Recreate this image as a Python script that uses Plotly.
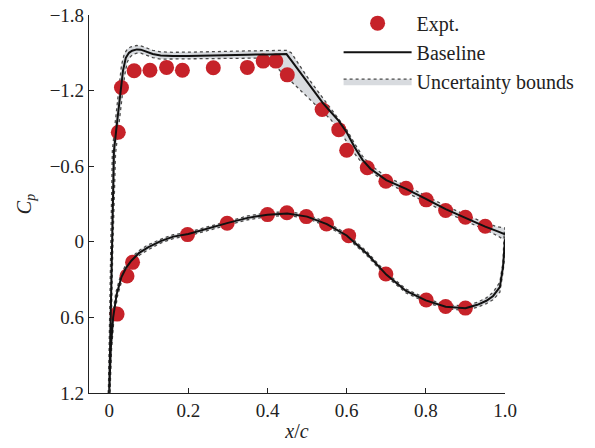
import plotly.graph_objects as go

# ---- Experimental pressure coefficients ----
exp_x_upper = [0.023, 0.031, 0.063, 0.103, 0.145, 0.185, 0.263, 0.349, 0.389, 0.421,
               0.450, 0.538, 0.580, 0.600, 0.652, 0.699, 0.750, 0.801, 0.850, 0.900, 0.950]
exp_cp_upper = [-0.87, -1.225, -1.357, -1.362, -1.384, -1.362, -1.381, -1.384, -1.434, -1.434,
                -1.325, -1.05, -0.89, -0.726, -0.588, -0.481, -0.425, -0.333, -0.248, -0.195, -0.123]
exp_x_lower = [0.020, 0.045, 0.059, 0.198, 0.298, 0.400, 0.449, 0.498, 0.549, 0.605,
               0.699, 0.801, 0.850, 0.900]
exp_cp_lower = [0.574, 0.271, 0.163, -0.057, -0.147, -0.216, -0.23, -0.20, -0.142, -0.049,
                0.255, 0.462, 0.513, 0.526]

# ---- Baseline computation ----
base_x_upper = [0.0, 0.002, 0.006, 0.012, 0.02, 0.027, 0.035, 0.042, 0.05, 0.058, 0.07, 0.08,
                0.095, 0.11, 0.13, 0.16, 0.2, 0.25, 0.3, 0.35, 0.4, 0.415, 0.431, 0.448, 0.46,
                0.48, 0.5, 0.52, 0.54, 0.56, 0.58, 0.6, 0.62, 0.64, 0.66, 0.7, 0.75, 0.8, 0.85,
                0.9, 0.95, 0.98, 1.0]
base_cp_upper = [1.2, 0.85, 0.07, -0.72, -0.95, -1.15, -1.36, -1.46, -1.50, -1.517, -1.527, -1.525,
                 -1.51, -1.49, -1.478, -1.474, -1.475, -1.48, -1.483, -1.485, -1.487, -1.488, -1.489,
                 -1.49, -1.44, -1.354, -1.27, -1.185, -1.10, -1.03, -0.96, -0.87, -0.75, -0.65,
                 -0.58, -0.49, -0.42, -0.34, -0.26, -0.19, -0.12, -0.085, -0.06]
base_x_lower = [0.0, 0.004, 0.01, 0.019, 0.031, 0.042, 0.056, 0.075, 0.098, 0.13, 0.162, 0.2,
                0.25, 0.3, 0.35, 0.4, 0.45, 0.5, 0.55, 0.6, 0.65, 0.7, 0.75, 0.8, 0.85, 0.9,
                0.93, 0.953, 0.97, 0.987, 0.995, 1.0]
base_cp_lower = [1.2, 0.85, 0.60, 0.415, 0.28, 0.21, 0.15, 0.09, 0.044, -0.005, -0.041, -0.062,
                 -0.105, -0.15, -0.19, -0.215, -0.225, -0.20, -0.14, -0.05, 0.09, 0.26, 0.39,
                 0.465, 0.515, 0.528, 0.50, 0.468, 0.43, 0.36, 0.20, -0.02]

# ---- Uncertainty bounds, upper surface ----
ub_outer_x = [-0.002, 0.0, 0.003, 0.008, 0.016, 0.023, 0.031, 0.038, 0.046, 0.055, 0.07, 0.08,
              0.095, 0.11, 0.13, 0.16, 0.2, 0.25, 0.3, 0.35, 0.4, 0.448, 0.46, 0.47, 0.5, 0.54,
              0.58, 0.6, 0.62, 0.64, 0.66, 0.7, 0.75, 0.8, 0.85, 0.9, 0.95, 0.98, 1.0]
ub_outer_cp = [1.2, 0.85, 0.07, -0.72, -0.97, -1.18, -1.40, -1.49, -1.53, -1.548, -1.558, -1.555,
               -1.54, -1.52, -1.508, -1.504, -1.505, -1.51, -1.513, -1.515, -1.517, -1.52, -1.50,
               -1.45, -1.31, -1.14, -0.97, -0.89, -0.78, -0.68, -0.61, -0.515, -0.445, -0.365,
               -0.285, -0.215, -0.15, -0.12, -0.11]
ub_inner_x = [0.002, 0.004, 0.009, 0.016, 0.024, 0.031, 0.039, 0.046, 0.054, 0.062, 0.07, 0.08,
              0.095, 0.11, 0.13, 0.16, 0.2, 0.25, 0.3, 0.35, 0.4, 0.415, 0.431, 0.448, 0.46, 0.48,
              0.5, 0.52, 0.54, 0.56, 0.58, 0.6, 0.62, 0.64, 0.66, 0.7, 0.75, 0.8, 0.85, 0.9, 0.95,
              0.98, 1.0]
ub_inner_cp = [1.2, 0.85, 0.07, -0.70, -0.93, -1.11, -1.32, -1.43, -1.47, -1.49, -1.497, -1.497,
               -1.482, -1.462, -1.45, -1.446, -1.447, -1.452, -1.455, -1.457, -1.46, -1.42, -1.36,
               -1.31, -1.27, -1.21, -1.15, -1.09, -1.03, -0.97, -0.89, -0.80, -0.70, -0.62, -0.56,
               -0.47, -0.395, -0.315, -0.235, -0.165, -0.095, -0.05, -0.01]

# ---- Uncertainty bounds, lower surface ----
lb_outer_x = [0.002, 0.006, 0.012, 0.021, 0.033, 0.044, 0.058, 0.077, 0.1, 0.13, 0.162, 0.2,
              0.25, 0.3, 0.35, 0.4, 0.45, 0.5, 0.55, 0.6, 0.65, 0.7, 0.75, 0.8, 0.85, 0.9, 0.93,
              0.953, 0.97, 0.987, 0.995, 1.002]
lb_outer_cp = [1.2, 0.85, 0.61, 0.43, 0.295, 0.225, 0.165, 0.105, 0.06, 0.01, -0.026, -0.047,
               -0.09, -0.135, -0.175, -0.2, -0.21, -0.185, -0.125, -0.035, 0.105, 0.275, 0.405,
               0.48, 0.53, 0.545, 0.52, 0.49, 0.46, 0.40, 0.24, 0.04]
lb_inner_x = [-0.002, 0.002, 0.008, 0.017, 0.029, 0.04, 0.054, 0.073, 0.096, 0.13, 0.162, 0.2,
              0.25, 0.3, 0.35, 0.4, 0.45, 0.5, 0.55, 0.6, 0.65, 0.7, 0.75, 0.8, 0.85, 0.9, 0.93,
              0.953, 0.97, 0.987, 0.995, 0.998]
lb_inner_cp = [1.2, 0.85, 0.59, 0.40, 0.265, 0.195, 0.135, 0.075, 0.028, -0.02, -0.056, -0.077,
               -0.12, -0.165, -0.205, -0.23, -0.24, -0.215, -0.155, -0.065, 0.075, 0.245, 0.375,
               0.45, 0.50, 0.51, 0.48, 0.445, 0.40, 0.32, 0.16, -0.08]

x_ticks = [0, 0.2, 0.4, 0.6, 0.8, 1.0]
x_tick_text = ["0", "0.2", "0.4", "0.6", "0.8", "1.0"]
y_ticks = [-1.8, -1.2, -0.6, 0, 0.6, 1.2]
y_tick_text = ["\u22121.8", "\u22121.2", "\u22120.6", "0", "0.6", "1.2"]

SERIF = "Times New Roman, Liberation Serif, DejaVu Serif, serif"
RED = "#c62229"
BAND_FILL = "#d8dbdf"
BAND_EDGE = "#4a4a4a"
INK = "#222222"

fig = go.Figure()

# uncertainty envelopes as closed polygons
for ox, ocp, ix, icp, show in [
    (ub_outer_x, ub_outer_cp, ub_inner_x, ub_inner_cp, True),
    (lb_outer_x, lb_outer_cp, lb_inner_x, lb_inner_cp, False),
]:
    fig.add_trace(go.Scatter(
        x=ox + ix[::-1], y=ocp + icp[::-1],
        mode="lines", fill="toself", fillcolor=BAND_FILL,
        line=dict(color=BAND_EDGE, width=1.3, dash="dot"),
        name="Uncertainty bounds", legendgroup="band", showlegend=show,
        legendrank=3, hoverinfo="skip",
    ))

# experimental data
fig.add_trace(go.Scatter(
    x=exp_x_upper + [None] + exp_x_lower,
    y=exp_cp_upper + [None] + exp_cp_lower,
    mode="markers", marker=dict(color=RED, size=15, line=dict(width=0)),
    name="Expt.", legendrank=1,
))

# baseline solution
fig.add_trace(go.Scatter(
    x=base_x_lower[::-1] + base_x_upper[1:],
    y=base_cp_lower[::-1] + base_cp_upper[1:],
    mode="lines", line=dict(color="#111111", width=2),
    name="Baseline", legendrank=2,
))

axis_common = dict(
    showgrid=False, zeroline=False, showline=True, linecolor=INK, linewidth=1.2,
    ticks="inside", ticklen=5, tickwidth=1.2, tickcolor=INK,
    tickfont=dict(family=SERIF, size=19, color=INK),
)

fig.update_xaxes(
    range=[-0.051, 1.0], tickvals=x_ticks, ticktext=x_tick_text,
    title=dict(text="<i>x</i>/<i>c</i>", font=dict(family=SERIF, size=20, color=INK), standoff=4),
    **axis_common,
)
fig.update_yaxes(
    range=[1.2, -1.8], tickvals=y_ticks, ticktext=y_tick_text,
    title=dict(text="<i>C</i><sub><i>p</i></sub>", font=dict(family=SERIF, size=20, color=INK), standoff=12),
    **axis_common,
)

fig.update_layout(
    width=595, height=448,
    margin=dict(l=89, r=90, t=15, b=55, autoexpand=False),
    paper_bgcolor="white", plot_bgcolor="white",
    showlegend=True,
    legend=dict(
        x=0.6, y=1.03, xanchor="left", yanchor="top",
        font=dict(family=SERIF, size=20, color=INK),
        bgcolor="rgba(0,0,0,0)", itemwidth=68, tracegroupgap=0,
        itemsizing="trace",
    ),
)

fig.write_html("out.html")
